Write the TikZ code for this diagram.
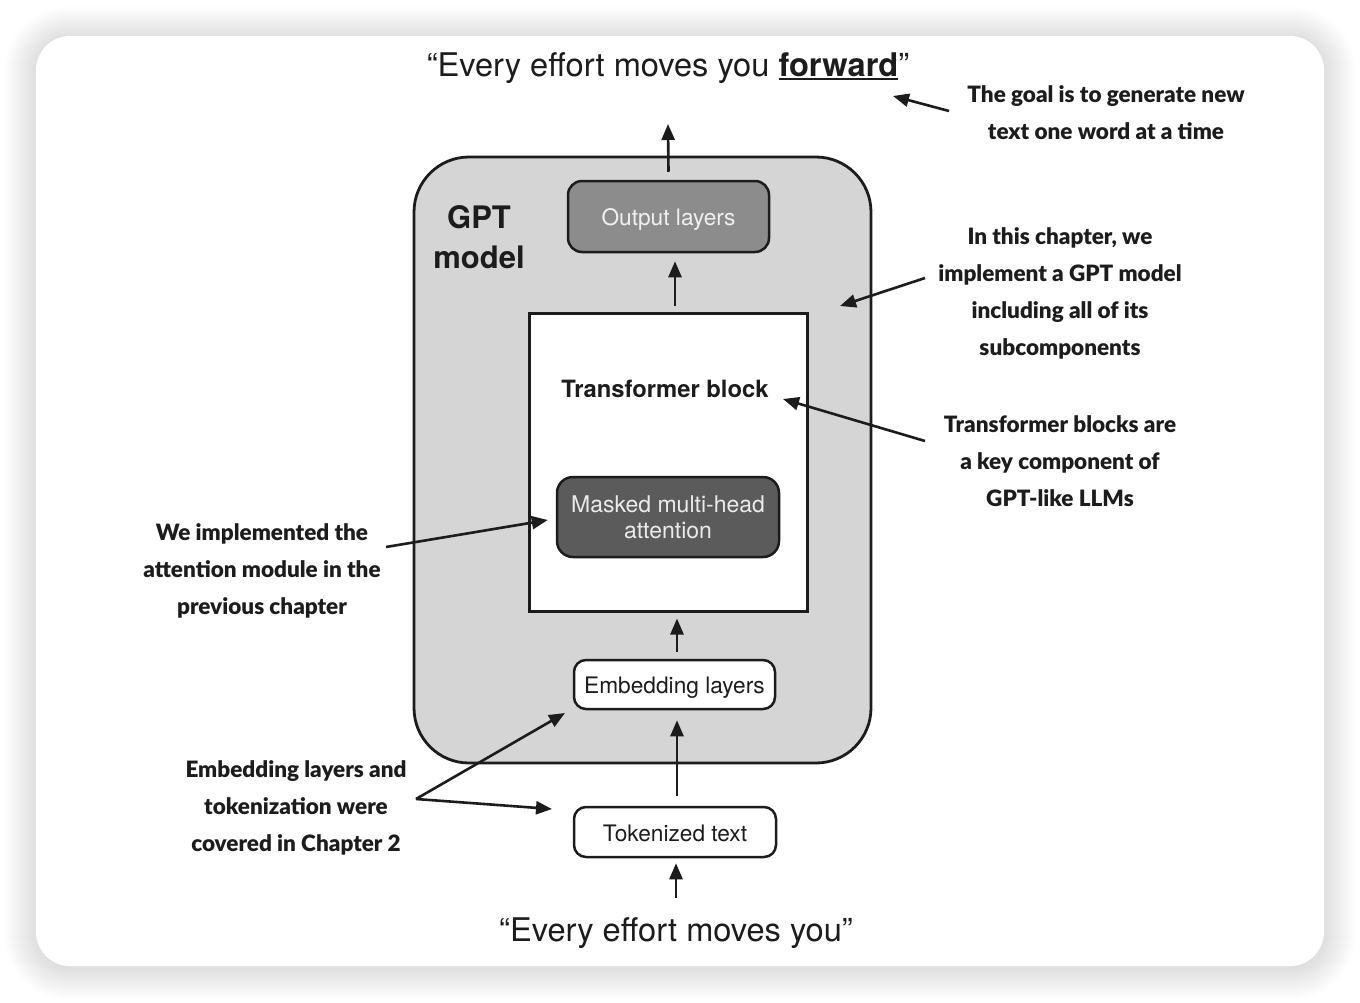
\documentclass[tikz,border=0pt]{standalone}
\usepackage{fontspec}
\setmainfont{TeX Gyre Heros}
\newfontfamily\notefont{Lato Black}
\usetikzlibrary{arrows.meta}
\definecolor{gptgray}{HTML}{D5D5D5}
\definecolor{outgray}{HTML}{8C8C8C}
\definecolor{mhagray}{HTML}{5B5B5B}
\definecolor{ink}{HTML}{1C1C1C}
\newcommand\myul[1]{\setbox0\hbox{#1}\rlap{\rule[-4pt]{\wd0}{2.2pt}}\box0}
\begin{document}
\begin{tikzpicture}[x=1pt,y=-1pt,
  arr/.style={-{Triangle[length=16pt,width=13pt]}, line width=2.6pt, draw=ink},
  box/.style={draw=ink, line width=2.5pt, inner sep=0pt, align=center},
  lbl/.style={font=\fontsize{22.7}{26}\selectfont, text height=19pt, text depth=1pt},
  note/.style={font=\notefont\fontsize{22.5}{37}\selectfont, align=center, text=ink, inner sep=0pt},
]
\useasboundingbox (0,0) rectangle (1360,1002);
\fill[white] (0,0) rectangle (1360,1002);
% card shadow
\foreach \i in {1,...,32}{
  \pgfmathsetmacro\r{34+\i}
  \fill[black,opacity=0.0055,rounded corners=\r pt] (36-\i,38-\i) rectangle (1324+\i,968+\i);
}
\fill[white, rounded corners=34pt] (36,36) rectangle (1324,966);

% main boxes
\node[box, fill=gptgray, line width=2.8pt, rounded corners=55pt, minimum width=457pt, minimum height=606pt] (gpt) at (642.5,460) {};
\node[font=\bfseries\fontsize{31}{40}\selectfont, align=center, text=ink] (gptlbl) at (479,237) {GPT\\model};
\node[box, fill=outgray, rounded corners=14pt, minimum width=201pt, minimum height=71pt, lbl, text=white!94!black] (out) at (668.5,216.5) {Output layers};
\node[box, fill=white, line width=3pt, minimum width=278pt, minimum height=298pt] (tb) at (668,462) {};
\node[font=\bfseries\fontsize{23.8}{26}\selectfont, text=ink] (tblbl) at (665,389) {Transformer block};
\node[box, fill=mhagray, rounded corners=16pt, minimum width=222pt, minimum height=80pt, font=\fontsize{23}{26}\selectfont, text=white!92!black] (mha) at (668,517) {\raisebox{-2pt}{Masked multi-head}\\\raisebox{-2pt}{attention}};
\node[box, fill=white, rounded corners=12pt, minimum width=201pt, minimum height=49pt, lbl, text=ink] (emb) at (674.5,684.5) {Embedding layers};
\node[box, fill=white, rounded corners=12pt, minimum width=202pt, minimum height=50pt, lbl, text=ink] (tok) at (675,832) {Tokenized text};

% titles
\node[anchor=base, inner sep=0pt, font=\fontsize{32.6}{38}\selectfont, text=ink] (ttop) at (668,76) {“Every effort moves you \myul{\textbf{forward}}”};
\node[anchor=base, inner sep=0pt, font=\fontsize{32.6}{38}\selectfont, text=ink] (tbot) at (676,941) {“Every effort moves you”};

% main arrows
\coordinate (c1) at (668,124);
\draw[arr] ([yshift=8pt]out.north) -- (c1);
\draw[arr] ([xshift=7pt,yshift=6pt]tb.north) -- ([xshift=6.5pt,yshift=-8pt]out.south);
\draw[arr] ([xshift=2.5pt,yshift=7pt]emb.north) -- ([xshift=9pt,yshift=-6pt]tb.south);
\draw[arr] ([xshift=2pt,yshift=10pt]tok.north) -- ([xshift=2.5pt,yshift=-10pt]emb.south);
\coordinate (c5) at (676,898);
\draw[arr] (c5) -- ([xshift=1pt,yshift=-5pt]tok.south);

% notes
\node[note] (n1) at (1106,113) {The goal is to generate new\\text one word at a time};
\node[note] (n2) at (1060,293) {In this chapter, we\\implement a GPT model\\including all of its\\subcomponents};
\node[note] (n3) at (1060,461.5) {Transformer blocks are\\a key component of\\GPT-like LLMs};
\node[note] (n4) at (262,571) {We implemented the\\attention module in the\\previous chapter};
\node[note] (n5) at (296,808) {Embedding layers and\\tokenization were\\covered in Chapter 2};

\coordinate (n1a) at (949,111); \coordinate (n1b) at (893,96);
\draw[arr] (n1a) -- (n1b);
\coordinate (n2a) at (925,278); \coordinate (n2b) at (840,306);
\draw[arr] (n2a) -- (n2b);
\coordinate (n3a) at (925,441); \coordinate (n3b) at (783,399);
\draw[arr] (n3a) -- (n3b);
\coordinate (n4a) at (386,547);
\draw[arr] (n4a) -- ([xshift=-8pt,yshift=-3pt]mha.west);
\coordinate (n5a) at (416,799);
\coordinate (n5b) at (565,713); \coordinate (n5c) at (552,809);
\draw[arr] (n5a) -- (n5b);
\draw[arr] (n5a) -- (n5c);
\end{tikzpicture}
\end{document}
